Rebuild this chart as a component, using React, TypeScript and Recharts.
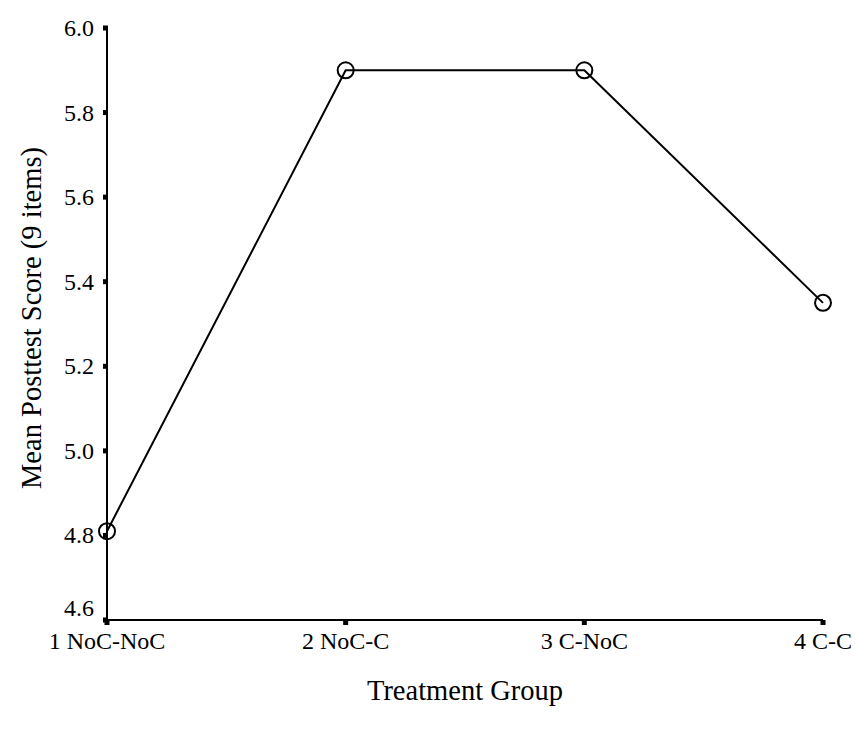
import { LineChart, Line, XAxis, YAxis, Label } from 'recharts';

const groups = ['1 NoC-NoC', '2 NoC-C', '3 C-NoC', '4 C-C'];
const meanScores = [4.81, 5.9, 5.9, 5.35];
const yTicks = [4.6, 4.8, 5.0, 5.2, 5.4, 5.6, 5.8, 6.0];

const data = groups.map((g, i) => ({ group: g, score: meanScores[i] }));

const FONT = '"Liberation Serif", "Times New Roman", serif';

function YTick(props: any) {
  const { x, y, payload } = props;
  // lowest label is nudged up so it clears the x tick labels
  const dy = payload.value === yTicks[0] ? -12 : 0;
  return (
    <g>
      <rect x={x - 4} y={y - 2.5} width={5} height={5} fill="#000" />
      <text
        x={x - 13}
        y={y + dy}
        textAnchor="end"
        dominantBaseline="central"
        fontFamily={FONT}
        fontSize={24}
        fill="#000"
      >
        {payload.value.toFixed(1)}
      </text>
    </g>
  );
}

function XTick(props: any) {
  const { x, y, payload } = props;
  return (
    <g>
      <rect x={x - 2.5} y={y} width={5} height={5} fill="#000" />
      <text
        x={x}
        y={y + 29}
        textAnchor="middle"
        fontFamily={FONT}
        fontSize={24}
        fill="#000"
      >
        {payload.value}
      </text>
    </g>
  );
}

// rotated y title, baseline near x=40
function YTitle(props: any) {
  const { viewBox } = props;
  const cy = viewBox.y + viewBox.height / 2 - 6;
  const cx = 41;
  return (
    <text
      x={cx}
      y={cy}
      transform={`rotate(-90, ${cx}, ${cy})`}
      textAnchor="middle"
      fontFamily={FONT}
      fontSize={28.5}
      fill="#000"
    >
      Mean Posttest Score (9 items)
    </text>
  );
}

export default function App() {
  return (
    <div style={{ position: 'absolute', left: 0, top: 0, background: '#fff' }}>
      <LineChart
        width={855}
        height={730}
        data={data}
        margin={{ top: 28, right: 32, bottom: 0, left: 0 }}
      >
        <XAxis
          dataKey="group"
          height={110}
          axisLine={{ stroke: '#000', strokeWidth: 2 }}
          tickLine={false}
          tickSize={0}
          tickMargin={0}
          tick={<XTick />}
          interval={0}
        >
          <Label
            value="Treatment Group"
            position="insideBottom"
            offset={30}
            style={{ fontFamily: FONT, fontSize: 28.5, fill: '#000' }}
          />
        </XAxis>
        <YAxis
          type="number"
          domain={[4.6, 6.0]}
          ticks={yTicks}
          width={107}
          axisLine={{ stroke: '#000', strokeWidth: 2 }}
          tickLine={false}
          tickSize={0}
          tickMargin={0}
          tick={<YTick />}
          interval={0}
        >
          <Label content={<YTitle />} />
        </YAxis>
        <Line
          type="linear"
          dataKey="score"
          stroke="#000"
          strokeWidth={2}
          dot={{ r: 8, fill: 'none', stroke: '#000', strokeWidth: 2 }}
          activeDot={false}
          isAnimationActive={false}
        />
      </LineChart>
    </div>
  );
}
